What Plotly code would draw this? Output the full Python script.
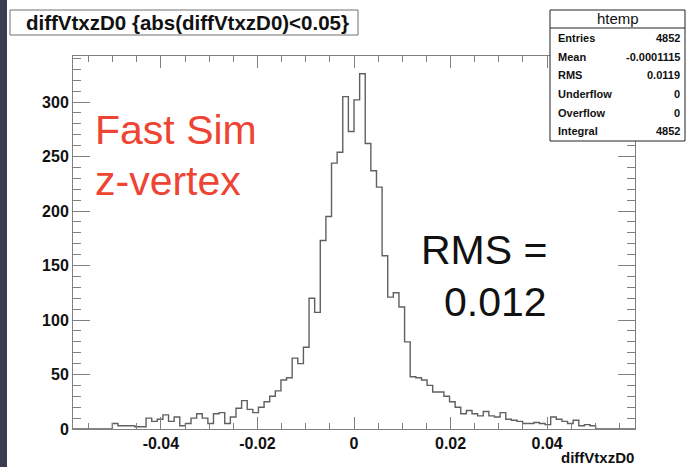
import plotly.graph_objects as go

# ---------------- data ----------------
x_min, x_max, n_bins = -0.0582, 0.0582, 100
first_bin = 7
counts = [5, 3, 3, 3, 2, 2, 10, 7, 9, 13, 7, 11, 3, 5,
          10, 14, 10, 5, 14, 15, 5, 11, 19, 26,
          18, 15, 20, 25, 30, 35, 45, 47, 65, 60,
          75, 120, 107, 173, 195, 244, 254, 305, 273, 302,
          326, 262, 237, 222, 159, 121, 125, 112, 80, 48,
          47, 45, 40, 34, 34, 30, 25, 20, 14, 17,
          14, 12, 16, 12, 11, 15, 9, 8, 7, 5,
          5, 6, 5, 4, 11, 9, 7, 5, 8, 3, 4, 3]
x_tick_vals = [-0.04, -0.02, 0, 0.02, 0.04]
x_tick_text = ["-0.04", "-0.02", "0", "0.02", "0.04"]
stats_labels = ["Entries", "Mean", "RMS", "Underflow", "Overflow", "Integral"]
stats_values = ["4852", "-0.0001115", "0.0119", "0", "0", "4852"]
title_text = "diffVtxzD0 {abs(diffVtxzD0)<0.05}"
x_title = "diffVtxzD0"

# ---------------- build histogram ----------------
full = [0] * n_bins
full[first_bin:first_bin + len(counts)] = counts
w = (x_max - x_min) / n_bins
edges = [x_min + i * w for i in range(n_bins + 1)]
ys = full + [full[-1]]

W, H = 687, 467
L, R, T, B = 73, 635, 56, 429


def px(xp):
    return (xp - L) / (R - L)


def py(yp):
    return (B - yp) / (B - T)


FONT = "Liberation Sans, Arial, Helvetica, sans-serif"
AX = "#808080"

fig = go.Figure()
fig.add_trace(go.Scatter(x=edges, y=ys, mode="lines", line_shape="hv",
                         line=dict(color="#606060", width=1.4),
                         hoverinfo="skip", showlegend=False))

fig.update_layout(
    width=W, height=H,
    margin=dict(l=L, r=W - R, t=T, b=H - B, pad=0),
    paper_bgcolor="white", plot_bgcolor="white",
    xaxis=dict(range=[x_min, x_max], showgrid=False, zeroline=False,
               showline=True, linecolor=AX, linewidth=1, mirror="ticks",
               ticks="inside", ticklen=12, tickcolor=AX, tickwidth=1,
               tickvals=x_tick_vals, ticktext=x_tick_text,
               tickfont=dict(family=FONT, size=16, color="#111", weight="bold"),
               minor=dict(dtick=0.005, tick0=0, ticks="inside", ticklen=6,
                          tickcolor=AX, showgrid=False)),
    yaxis=dict(range=[0, 1.05 * max(counts)], showgrid=False, zeroline=False,
               showline=True, linecolor=AX, linewidth=1, mirror="ticks",
               ticks="inside", ticklen=17, tickcolor=AX, tickwidth=1,
               dtick=50, tick0=0,
               tickfont=dict(family=FONT, size=16, color="#111", weight="bold"),
               minor=dict(dtick=10, ticks="inside", ticklen=8,
                          tickcolor=AX, showgrid=False)),
)

shapes = []
# dark slide border on the left
shapes.append(dict(type="rect", xref="paper", yref="paper", layer="above",
                   x0=px(0), x1=px(7), y0=py(H), y1=py(0),
                   fillcolor="#3b3c50", line=dict(width=0)))
# title box
shapes.append(dict(type="rect", xref="paper", yref="paper", layer="above",
                   x0=px(10), x1=px(358), y0=py(35), y1=py(10),
                   fillcolor="white", line=dict(color="#707070", width=1)))
# stats box
shapes.append(dict(type="rect", xref="paper", yref="paper", layer="above",
                   x0=px(550), x1=px(685), y0=py(141), y1=py(10),
                   fillcolor="white", line=dict(color="#222", width=1)))
shapes.append(dict(type="line", xref="paper", yref="paper", layer="above",
                   x0=px(550), x1=px(685), y0=py(28), y1=py(28),
                   line=dict(color="#222", width=1)))
fig.update_layout(shapes=shapes)

ann = []
ann.append(dict(text="<b>" + title_text + "</b>", xref="paper", yref="paper",
                x=px(187), y=py(22.5), xanchor="center", yanchor="middle",
                showarrow=False, font=dict(family=FONT, size=20.5, color="#111")))
ann.append(dict(text="htemp", xref="paper", yref="paper",
                x=px(617.5), y=py(18.5), xanchor="center", yanchor="middle",
                showarrow=False, font=dict(family=FONT, size=15, color="#111")))
row_y = [38, 56.5, 75, 94, 112.5, 131]
for lab, val, yy in zip(stats_labels, stats_values, row_y):
    ann.append(dict(text="<b>" + lab + "</b>", xref="paper", yref="paper",
                    x=px(556), y=py(yy), xanchor="left", yanchor="middle",
                    showarrow=False, font=dict(family=FONT, size=11, color="#111")))
    ann.append(dict(text="<b>" + val + "</b>", xref="paper", yref="paper",
                    x=px(682), y=py(yy), xanchor="right", yanchor="middle",
                    showarrow=False, font=dict(family=FONT, size=11, color="#111")))
# axis title
ann.append(dict(text="<b>" + x_title + "</b>", xref="paper", yref="paper",
                x=px(636), y=py(457), xanchor="right", yanchor="middle",
                showarrow=False, font=dict(family=FONT, size=15, color="#111")))
# big labels
RED = "#ee4433"
ann.append(dict(text="Fast Sim", xref="paper", yref="paper",
                x=px(93), y=py(130), xanchor="left", yanchor="middle",
                showarrow=False, font=dict(family=FONT, size=41, color=RED)))
ann.append(dict(text="z-vertex", xref="paper", yref="paper",
                x=px(93), y=py(181), xanchor="left", yanchor="middle",
                showarrow=False, font=dict(family=FONT, size=41, color=RED)))
ann.append(dict(text="RMS =", xref="paper", yref="paper",
                x=px(549), y=py(250), xanchor="right", yanchor="middle",
                showarrow=False, font=dict(family=FONT, size=41, color="#111")))
ann.append(dict(text="0.012", xref="paper", yref="paper",
                x=px(549), y=py(302), xanchor="right", yanchor="middle",
                showarrow=False, font=dict(family=FONT, size=41, color="#111")))
fig.update_layout(annotations=ann)

fig.write_html("out.html")
